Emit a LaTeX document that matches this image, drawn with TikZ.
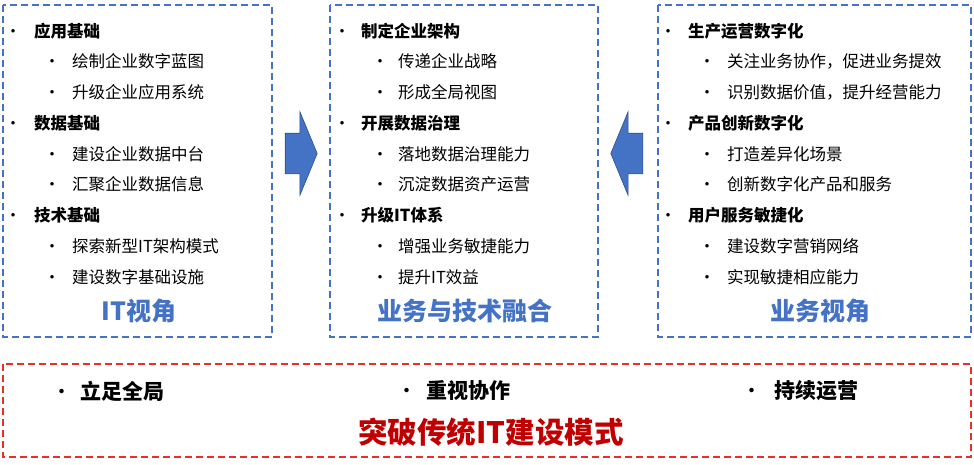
\documentclass[tikz,border=0pt]{standalone}
\usepackage{fontspec}
\setmainfont{Noto Sans CJK SC}
\usetikzlibrary{shapes,arrows}
\definecolor{itblue}{HTML}{4472C4}
\definecolor{darkred}{HTML}{C00000}
\definecolor{edgered}{HTML}{E8302A}
\tikzstyle{frame} = [draw=itblue, line width=1.3pt, dash pattern=on 7pt off 4pt]
\tikzstyle{redframe} = [draw=edgered, line width=1.3pt, dash pattern=on 7pt off 4pt]
\tikzstyle{head} = [anchor=west, inner sep=0pt, font=\fontsize{16.5}{18}\selectfont\bfseries]
\tikzstyle{item} = [anchor=west, inner sep=0pt, font=\fontsize{16.5}{18}\selectfont]
\tikzstyle{point} = [anchor=west, inner sep=0pt, font=\fontsize{21}{24}\selectfont\bfseries]
\tikzstyle{title} = [text=itblue, font=\fontsize{25}{28}\selectfont\bfseries]
\tikzstyle{bigtitle} = [text=darkred, font=\fontsize{29.5}{32}\selectfont\bfseries]
\tikzstyle{bigarrow} = [single arrow, draw=itblue!70!black, fill=itblue, line width=0.6pt,
    inner xsep=0pt, inner ysep=20pt, minimum height=32pt,
    single arrow head extend=21.5pt, single arrow tip angle=135]
% bullet centred on the node's west end, text after a gap
\newcommand{\bul}[1][21pt]{\makebox[0pt]{\mdseries•}\hspace*{#1}}

\begin{document}
\begin{tikzpicture}[x=1pt, y=-1pt]
\useasboundingbox (0,0) rectangle (974,464);
% three views
\draw [frame] (3,5) rectangle (272,337);
\draw [frame] (330,5) rectangle (598,337);
\draw [frame] (658,5) rectangle (971,337);
\node [bigarrow] (toright) at (297,153.5) {};
\node [bigarrow, shape border rotate=180] (toleft) at (631,153.5) {};

% IT view
\node [head] (appbase) at (13,31) {\bul[21pt]应用基础};
\node [item] (app1) at (52,61) {\bul[20pt]绘制企业数字蓝图};
\node [item] (app2) at (52,92) {\bul[20pt]升级企业应用系统};
\node [head] (databasis) at (13,123) {\bul[21pt]数据基础};
\node [item] (data1) at (52,154) {\bul[20pt]建设企业数据中台};
\node [item] (data2) at (52,184) {\bul[20pt]汇聚企业数据信息};
\node [head] (techbase) at (13,215) {\bul[21pt]技术基础};
\node [item] (tech1) at (52,246) {\bul[20pt]探索新型IT架构模式};
\node [item] (tech2) at (52,277) {\bul[20pt]建设数字基础设施};
\node [title] (itview) at (139,311) {IT视角};

% fusion
\node [head] (arch) at (342,31) {\bul[19pt]制定企业架构};
\node [item] (arch1) at (380,61) {\bul[18pt]传递企业战略};
\node [item] (arch2) at (380,92) {\bul[18pt]形成全局视图};
\node [head] (gov) at (342,123) {\bul[19pt]开展数据治理};
\node [item] (gov1) at (380,154) {\bul[18pt]落地数据治理能力};
\node [item] (gov2) at (380,184) {\bul[18pt]沉淀数据资产运营};
\node [head] (itsys) at (342,215) {\bul[19pt]升级IT体系};
\node [item] (itsys1) at (380,246) {\bul[18pt]增强业务敏捷能力};
\node [item] (itsys2) at (380,277) {\bul[18pt]提升IT效益};
\node [title] (fusion) at (465,311) {业务与技术融合};

% business view
\node [head] (prod) at (668,31) {\bul[20pt]生产运营数字化};
\node [item] (prod1) at (707,61) {\bul[20pt]关注业务协作，促进业务提效};
\node [item] (prod2) at (707,92) {\bul[20pt]识别数据价值，提升经营能力};
\node [head] (innov) at (668,123) {\bul[20pt]产品创新数字化};
\node [item] (innov1) at (707,154) {\bul[20pt]打造差异化场景};
\node [item] (innov2) at (707,184) {\bul[20pt]创新数字化产品和服务};
\node [head] (serv) at (668,215) {\bul[20pt]用户服务敏捷化};
\node [item] (serv1) at (707,246) {\bul[20pt]建设数字营销网络};
\node [item] (serv2) at (707,277) {\bul[20pt]实现敏捷相应能力};
\node [title] (bizview) at (820,311) {业务视角};

% bottom
\draw [redframe] (3,364) rectangle (971,457);
\node [point] (global) at (62,391) {\bul[18pt]立足全局};
\node [point] (collab) at (407,391) {\bul[19pt]重视协作};
\node [point] (oper) at (752,391) {\bul[22pt]持续运营};
\node [bigtitle] (breakit) at (491,432) {突破传统IT建设模式};
\end{tikzpicture}
\end{document}
